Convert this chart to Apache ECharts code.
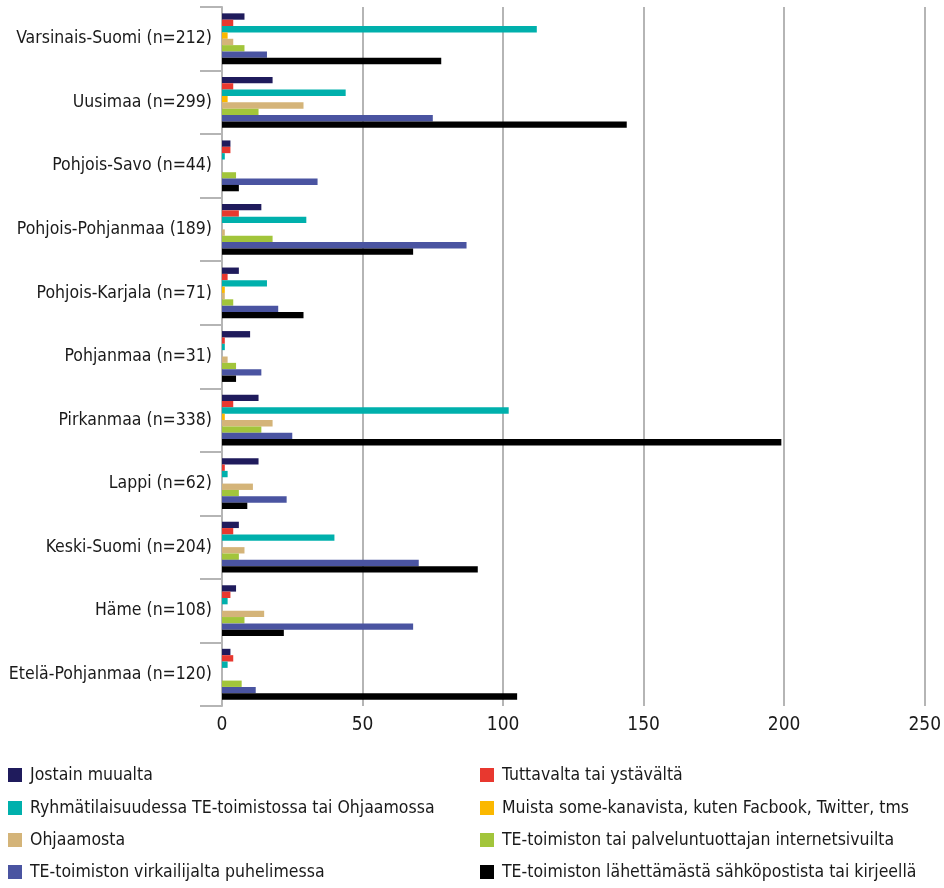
<!DOCTYPE html>
<html>
<head>
<meta charset="utf-8">
<script src="https://cdn.jsdelivr.net/npm/echarts@6/dist/echarts.min.js"></script>
<style>
  html, body { margin: 0; padding: 0; background: #ffffff; }
  #chart { width: 944px; height: 888px; }
</style>
</head>
<body>
<div id="chart"></div>
<script>
// Regions (top to bottom)
const regions = [
  'Varsinais-Suomi (n=212)', 'Uusimaa (n=299)', 'Pohjois-Savo (n=44)',
  'Pohjois-Pohjanmaa (189)', 'Pohjois-Karjala (n=71)', 'Pohjanmaa (n=31)',
  'Pirkanmaa (n=338)', 'Lappi (n=62)', 'Keski-Suomi (n=204)',
  'Häme (n=108)', 'Etelä-Pohjanmaa (n=120)'
];

// Information channels, one array per channel, values in region order
const jostainMuualta   = [8, 18, 3, 14, 6, 10, 13, 13, 6, 5, 3];
const tuttavalta       = [4, 4, 3, 6, 2, 1, 4, 1, 4, 3, 4];
const ryhmatilaisuus   = [112, 44, 1, 30, 16, 1, 102, 2, 40, 2, 2];
const someKanavat      = [2, 2, 0, 0, 1, 0, 1, 0, 0, 0, 0];
const ohjaamosta       = [4, 29, 0, 1, 1, 2, 18, 11, 8, 15, 0];
const internetsivut    = [8, 13, 5, 18, 4, 5, 14, 6, 6, 8, 7];
const puhelimessa      = [16, 75, 34, 87, 20, 14, 25, 23, 70, 68, 12];
const sahkoposti       = [78, 144, 6, 68, 29, 5, 199, 9, 91, 22, 105];

const seriesNames = [
  'Jostain muualta',
  'Tuttavalta tai ystävältä',
  'Ryhmätilaisuudessa TE-toimistossa tai Ohjaamossa',
  'Muista some-kanavista, kuten Facbook, Twitter, tms',
  'Ohjaamosta',
  'TE-toimiston tai palveluntuottajan internetsivuilta',
  'TE-toimiston virkailijalta puhelimessa',
  'TE-toimiston lähettämästä sähköpostista tai kirjeellä'
];
const seriesValues = [
  jostainMuualta, tuttavalta, ryhmatilaisuus, someKanavat,
  ohjaamosta, internetsivut, puhelimessa, sahkoposti
];
const seriesColors = [
  '#1f1b5c', '#e8382f', '#00b0ac', '#fbb800',
  '#d4b479', '#a2c53b', '#4a54a1', '#000000'
];

const xTicks = { min: 0, max: 250, interval: 50 };

const FONT = '"Liberation Sans Narrow", "DejaVu Sans Condensed", "Liberation Sans", sans-serif';

const chart = echarts.init(document.getElementById('chart'), null, { renderer: 'canvas' });

const series = seriesNames.map((name, i) => ({
  name: name,
  type: 'bar',
  data: seriesValues[i],
  barGap: '0%',
  barCategoryGap: '20%',
  itemStyle: { color: seriesColors[i] },
  emphasis: { disabled: true },
  animation: false
}));

// Two-column legend: one single-item legend per entry, laid out row by row
const legendCols = [8, 480];
const legendRows = [766, 799, 831, 863];
const legends = seriesNames.map((name, i) => ({
  left: legendCols[i % 2],
  top: legendRows[Math.floor(i / 2)],
  padding: 0,
  itemWidth: 14, itemHeight: 14,
  icon: 'rect',
  selectedMode: false,
  textStyle: { fontFamily: FONT, fontSize: 17.5, color: '#1a1a1a', padding: [0, 0, 0, 3] },
  data: [name]
}));

chart.setOption({
  backgroundColor: '#ffffff',
  animation: false,
  grid: { left: 222, right: 19, top: 7, bottom: 182, containLabel: false },
  legend: legends,
  xAxis: {
    type: 'value',
    min: xTicks.min, max: xTicks.max, interval: xTicks.interval,
    axisLine: { show: false },
    axisTick: { show: false },
    splitLine: { show: true, lineStyle: { color: '#b5b5b5', width: 2 } },
    axisLabel: { fontFamily: FONT, fontSize: 19, color: '#1a1a1a', margin: 10 }
  },
  yAxis: {
    type: 'category',
    inverse: true,
    data: regions,
    axisLine: { show: true, lineStyle: { color: '#b5b5b5', width: 2 } },
    axisTick: { show: true, length: 22, lineStyle: { color: '#b5b5b5', width: 2 } },
    splitLine: { show: false },
    axisLabel: { fontFamily: FONT, fontSize: 17.5, color: '#1a1a1a', margin: 10 }
  },
  series: series
});
</script>
</body>
</html>
